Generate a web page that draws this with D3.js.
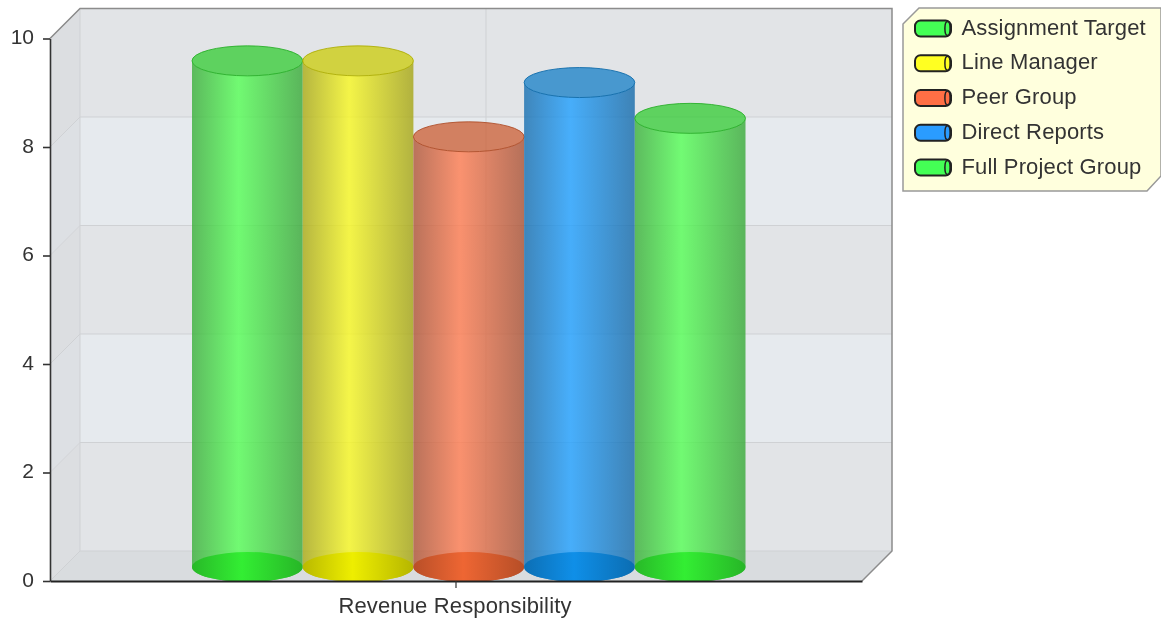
<!DOCTYPE html>
<html><head><meta charset="utf-8">
<script src="https://cdn.jsdelivr.net/npm/d3@7/dist/d3.min.js"></script>
<style>html,body{margin:0;padding:0;background:#fff}svg{display:block;filter:blur(0.55px)}text{font-family:"Liberation Sans",Arial,sans-serif;fill:#333}</style>
</head><body><svg id="c" width="1161" height="623"></svg>
<script>
const categories = ["Revenue Responsibility"];
const seriesNames = ["Assignment Target","Line Manager","Peer Group","Direct Reports","Full Project Group"];
const seriesValues = [9.33,9.33,7.93,8.93,8.27];
const seriesColors = ["#33ee33","#eeee00","#ee6633","#0f8fe8","#33ee33"];
const lightColors = ["#55ff55","#f8f820","#ff7c50","#20a0ff","#55ff55"];
const legendColors = ["#44ff55","#ffff22","#ff6f45","#2a9cff","#44ff55"];
const yTicks = [0,2,4,6,8,10];

const svg = d3.select("#c"), defs = svg.append("defs");
const depth = 30, left = 50, right = 862, base = 581, top10 = 38.5;
const y = d3.scaleLinear().domain([0,10]).range([base,top10]);
const xCat = d3.scaleBand().domain(categories).range([left,right]);
const xSer = d3.scaleBand().domain(seriesNames).range([192,745.5]);

// walls
const wallBands = [[0,2,"#e2e4e7"],[2,4,"#e6eaee"],[4,6,"#e2e4e7"],[6,8,"#e6eaee"],[8,10,"#e2e4e7"]];
const leftBands = [[0,2,"#dcdee1"],[2,4,"#dde0e4"],[4,6,"#dcdee1"],[6,8,"#dde0e4"],[8,10,"#dcdee1"]];
svg.selectAll(".band").data(wallBands).join("rect")
  .attr("x",left+depth).attr("width",right-left)
  .attr("y",d=>y(d[1])-depth).attr("height",d=>y(d[0])-y(d[1]))
  .attr("fill",d=>d[2]);
svg.selectAll(".lband").data(leftBands).join("path").attr("fill",d=>d[2])
  .attr("d",d=>`M${left},${y(d[0])}L${left},${y(d[1])}L${left+depth},${y(d[1])-depth}L${left+depth},${y(d[0])-depth}Z`);
// floor
svg.append("path").attr("fill","#d9dcdf")
  .attr("d",`M${left},${y(0)}L${left+depth},${y(0)-depth}L${right+depth},${y(0)-depth}L${right},${y(0)}Z`);
// grid
svg.selectAll(".g1").data(yTicks).join("path")
  .attr("fill","none").attr("stroke","#cfd1d4").attr("stroke-width",1)
  .attr("d",d=>`M${left},${y(d)}L${left+depth},${y(d)-depth}L${right+depth},${y(d)-depth}`);
svg.append("line").attr("x1",left+depth).attr("x2",left+depth)
  .attr("y1",y(10)-depth).attr("y2",y(0)-depth).attr("stroke","#cfd1d4");
svg.append("line").attr("x1",xCat(categories[0])+xCat.bandwidth()/2+depth)
  .attr("x2",xCat(categories[0])+xCat.bandwidth()/2+depth)
  .attr("y1",y(10)-depth).attr("y2",y(0)-depth).attr("stroke","#cfd1d4");
// outer wall edges
svg.append("path").attr("fill","none").attr("stroke","#8c8c8c").attr("stroke-width",1.5)
  .attr("d",`M${left},${y(10)}L${left+depth},${y(10)-depth}L${right+depth},${y(10)-depth}L${right+depth},${y(0)-depth}L${right},${y(0)}`);

// gradients
seriesNames.forEach((n,i)=>{
  const g = defs.append("linearGradient").attr("id","body"+i);
  g.append("stop").attr("offset",0).attr("stop-color",d3.color(lightColors[i]).darker(1.05));
  g.append("stop").attr("offset",0.42).attr("stop-color",lightColors[i]);
  g.append("stop").attr("offset",1).attr("stop-color",d3.color(lightColors[i]).darker(1.15));
  const b = defs.append("linearGradient").attr("id","bot"+i);
  b.append("stop").attr("offset",0).attr("stop-color",d3.color(seriesColors[i]).darker(0.7));
  b.append("stop").attr("offset",0.45).attr("stop-color",seriesColors[i]);
  b.append("stop").attr("offset",1).attr("stop-color",d3.color(seriesColors[i]).darker(0.75));
});

// cylinders
const ry = 15, zOff = 14;
const rows = seriesNames.map((n,i)=>({n,i,v:seriesValues[i]}));
const cyl = svg.selectAll(".cyl").data(rows).join("g");
cyl.append("path")
  .attr("fill",d=>`url(#body${d.i})`).attr("fill-opacity",0.8)
  .attr("d",d=>{
    const x0=xSer(d.n), w=xSer.bandwidth(), r=w/2, t=y(d.v)-zOff, b=y(0)-zOff;
    return `M${x0},${t}A${r},${ry} 0 0 0 ${x0+w},${t}L${x0+w},${b}A${r},${ry} 0 0 1 ${x0},${b}Z`;
  });
cyl.append("ellipse")
  .attr("cx",d=>xSer(d.n)+xSer.bandwidth()/2).attr("cy",y(0)-zOff)
  .attr("rx",xSer.bandwidth()/2).attr("ry",ry)
  .attr("fill",d=>`url(#bot${d.i})`);
cyl.append("ellipse")
  .attr("cx",d=>xSer(d.n)+xSer.bandwidth()/2).attr("cy",d=>y(d.v)-zOff)
  .attr("rx",xSer.bandwidth()/2).attr("ry",ry)
  .attr("fill",d=>d3.color(seriesColors[d.i]).darker(0.45)).attr("fill-opacity",0.72)
  .attr("stroke",d=>d3.color(seriesColors[d.i]).darker(0.9)).attr("stroke-opacity",0.85);

// axes
const axisY = svg.append("g").attr("transform",`translate(${left},0)`).call(d3.axisLeft(y).tickValues(yTicks).tickSize(7).tickSizeOuter(0).tickPadding(9));
const axisX = svg.append("g").attr("transform",`translate(0,${base})`).call(d3.axisBottom(xCat).tickSize(7).tickSizeOuter(0).tickPadding(7));
axisY.selectAll("path,line").attr("stroke","#333").attr("stroke-width",1.6);
axisX.selectAll("path").attr("stroke","#222").attr("stroke-width",1.8);
axisX.selectAll("line").attr("stroke","#333").attr("stroke-width",1.2);
axisY.selectAll("text").attr("font-size",21).attr("dy","0.26em").style("font-family",'"Liberation Sans"').attr("fill","#333");
axisX.selectAll("text").attr("font-size",22).attr("y",16).attr("dx",-1).style("letter-spacing","0.15px").style("font-family",'"Liberation Sans"').attr("fill","#333");

// legend
const lg = svg.append("g");
lg.append("path").attr("fill","#ffffdd").attr("stroke","#999").attr("stroke-width",1.5)
  .attr("d","M903,24L919,8L1161,8L1161,176L1147,191L903,191Z");
const ly = d3.scalePoint().domain(seriesNames).range([28.5,167.5]);
const items = lg.selectAll(".it").data(rows).join("g").attr("transform",d=>`translate(0,${ly(d.n)})`);
items.append("rect").attr("x",915).attr("y",-8).attr("width",36).attr("height",16).attr("rx",5.5)
  .attr("fill",d=>legendColors[d.i]).attr("stroke","#222").attr("stroke-width",2);
items.append("ellipse").attr("cx",947.5).attr("cy",0).attr("rx",2.6).attr("ry",7)
  .attr("fill",d=>legendColors[d.i]).attr("stroke","#222").attr("stroke-width",1.5);
items.append("text").attr("x",961.5).attr("y",6).attr("font-size",22).style("letter-spacing","0.15px").text(d=>d.n);
</script></body></html>
